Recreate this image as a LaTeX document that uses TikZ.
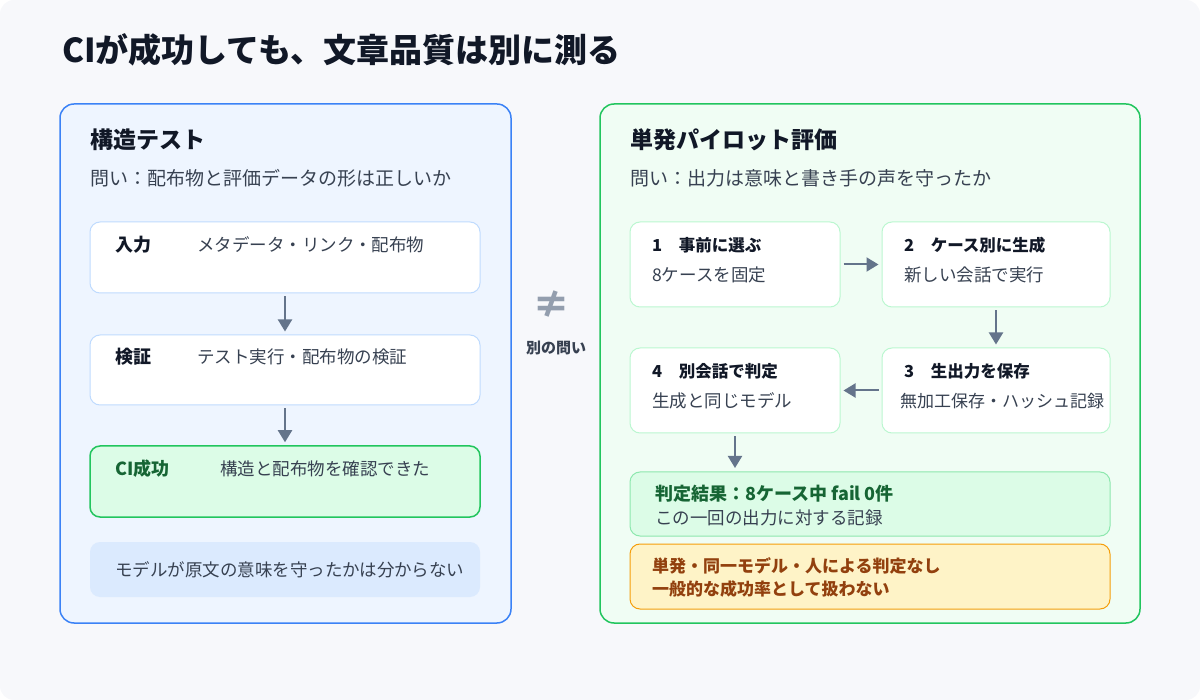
\documentclass[tikz,border=0pt]{standalone}
\usepackage{fontspec}
\setmainfont{Noto Sans CJK JP}
\usetikzlibrary{arrows.meta}
\definecolor{bgc}{HTML}{F7F8FB}
\definecolor{ink}{HTML}{111827}
\definecolor{sub}{HTML}{374151}
\definecolor{arr}{HTML}{64748B}
\definecolor{bluefill}{HTML}{EEF5FF}
\definecolor{bluestroke}{HTML}{3B82F6}
\definecolor{bluebox}{HTML}{BFDBFE}
\definecolor{bluenote}{HTML}{DBEAFE}
\definecolor{greenfill}{HTML}{F0FDF4}
\definecolor{greenstroke}{HTML}{22C55E}
\definecolor{greenbox}{HTML}{BBF7D0}
\definecolor{greenok}{HTML}{DCFCE7}
\definecolor{greenink}{HTML}{166534}
\definecolor{warnfill}{HTML}{FEF3C7}
\definecolor{warnstroke}{HTML}{F59E0B}
\definecolor{warnink}{HTML}{92400E}
\tikzset{
  panel/.style={rounded corners=14pt, line width=1.5pt},
  card/.style={rounded corners=10pt, fill=white, line width=1pt},
  txt/.style={anchor=west, inner sep=0pt, font=\fontsize{17.5}{19}\selectfont, text=sub},
  bold/.style={anchor=west, inner sep=0pt, font=\fontsize{18}{20}\selectfont\bfseries, text=ink},
  steplabel/.style={bold, font=\fontsize{16.5}{18}\selectfont\bfseries},
  flow/.style={-{Triangle[length=12pt,width=14pt]}, line width=2pt, draw=arr, shorten >=3pt, shorten <=3pt}
}
\begin{document}
\begin{tikzpicture}[x=1pt,y=-1pt]
  \fill[bgc, rounded corners=14pt] (0,0) rectangle (1200,700);
  \useasboundingbox (0,0) rectangle (1200,700);
  \node[anchor=west, inner sep=0pt, font=\fontsize{33}{36}\selectfont\bfseries, text=ink] (title) at (62,50) {CIが成功しても、文章品質は別に測る};

  % left panel
  \draw[panel, draw=bluestroke, fill=bluefill] (60,104) rectangle (511,623);
  \node[bold, font=\fontsize{23}{26}\selectfont\bfseries] (lhead) at (90,140) {構造テスト};
  \node[txt, font=\fontsize{19}{21}\selectfont] (lq) at (90,178) {問い：配布物と評価データの形は正しいか};
  \node[card, draw=bluebox, minimum width=390pt, minimum height=71pt] (in) at (285,257.5) {};
  \node[bold] at (115,245) {入力};
  \node[txt] at (197,245) {メタデータ・リンク・配布物};
  \node[card, draw=bluebox, minimum width=390pt, minimum height=70pt] (chk) at (285,370) {};
  \node[bold] at (115,357) {検証};
  \node[txt] at (197,357) {テスト実行・配布物の検証};
  \node[card, draw=greenstroke, fill=greenok, line width=1.5pt, minimum width=390pt, minimum height=71pt] (ci) at (285,481.5) {};
  \node[bold, text=greenink] at (115,469) {CI成功};
  \node[txt] at (220,469) {構造と配布物を確認できた};
  \node[rounded corners=10pt, fill=bluenote, minimum width=390pt, minimum height=55pt] (note) at (285,569.5) {};
  \node[txt] at (115,570) {モデルが原文の意味を守ったかは分からない};
  \draw[flow] (in) -- (chk);
  \draw[flow] (chk) -- (ci);

  % middle
  \node[font=\fontsize{38}{40}\selectfont\bfseries, text=arr!70] (neq) at (551,305) {≠};
  \node[font=\fontsize{15}{17}\selectfont\bfseries, text=sub] (nq) at (556,348) {別の問い};

  % right panel
  \draw[panel, draw=greenstroke, fill=greenfill] (600,104) rectangle (1140,623);
  \node[bold, font=\fontsize{23}{26}\selectfont\bfseries] (rhead) at (630,140) {単発パイロット評価};
  \node[txt, font=\fontsize{19}{21}\selectfont] (rq) at (630,178) {問い：出力は意味と書き手の声を守ったか};
  \node[card, draw=greenbox, minimum width=210pt, minimum height=85pt] (s1) at (735,264.5) {};
  \node[steplabel] at (652,245) {1\quad 事前に選ぶ};
  \node[txt] at (652,275) {8ケースを固定};
  \node[card, draw=greenbox, minimum width=228pt, minimum height=85pt] (s2) at (996,264.5) {};
  \node[steplabel] at (904,245) {2\quad ケース別に生成};
  \node[txt] at (904,275) {新しい会話で実行};
  \node[card, draw=greenbox, minimum width=228pt, minimum height=85pt] (s3) at (996,390.5) {};
  \node[steplabel] at (904,371) {3\quad 生出力を保存};
  \node[txt, font=\fontsize{17}{19}\selectfont] at (900,401) {無加工保存・ハッシュ記録};
  \node[card, draw=greenbox, minimum width=210pt, minimum height=85pt] (s4) at (735,390.5) {};
  \node[steplabel] at (652,371) {4\quad 別会話で判定};
  \node[txt] at (652,401) {生成と同じモデル};
  \draw[flow] (s1) -- (s2);
  \draw[flow] (s2) -- (s3);
  \draw[flow] (s3) -- (s4);
  \coordinate (rtop) at (735,468);
  \draw[flow, shorten >=0pt] (s4) -- (rtop);
  \node[rounded corners=10pt, draw=greenbox!70!greenstroke, fill=greenok, line width=1pt, minimum width=480pt, minimum height=64pt] (res) at (870,504) {};
  \node[bold, text=greenink] at (655,494) {判定結果：8ケース中 fail 0件};
  \node[txt] at (655,518) {この一回の出力に対する記録};
  \node[rounded corners=10pt, draw=warnstroke, fill=warnfill, line width=1pt, minimum width=480pt, minimum height=65pt] (warn) at (870,576.5) {};
  \node[bold, font=\fontsize{17}{19}\selectfont\bfseries, text=warnink] at (652,566) {単発・同一モデル・人による判定なし};
  \node[bold, font=\fontsize{17}{19}\selectfont\bfseries, text=warnink] at (652,589) {一般的な成功率として扱わない};
\end{tikzpicture}
\end{document}
